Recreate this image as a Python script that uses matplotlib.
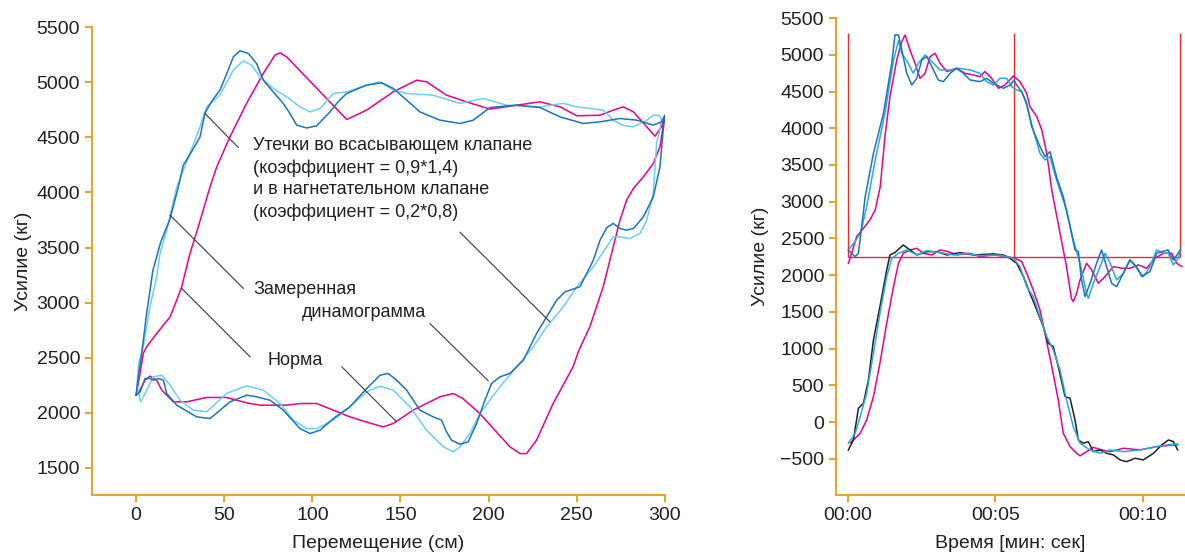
import matplotlib
matplotlib.use('Agg')
import matplotlib.pyplot as plt

plt.rcParams['font.family'] = ['Liberation Sans', 'DejaVu Sans']

GOLD = '#E2A634'
DARK_BLUE = '#1B75BB'
LIGHT_BLUE = '#6DCFF6'
SKY_BLUE = '#27AAE1'
MAGENTA = '#EC008C'
BLACK = '#231F20'
RED = '#EE2B2B'
TEXT = '#231F20'

# --- dynamograms: position (cm) vs load (kg) ---
dark_x = [0, 1.5, 3.2, 6, 9.6, 14, 19.3, 24, 26.8, 29.7, 33, 36.3, 39.1, 43, 47.6, 51, 55.2, 59,
          63.7, 68.4, 72.2, 77.8, 83.5, 87.3, 91.1, 96.8, 102.5, 110, 115, 119.5, 130.8, 139.3,
          145.9, 153.5, 161, 172.4, 183.7, 191.3, 200.8, 215.6, 229.1, 240.5, 253.6, 263.2,
          274.5, 284, 293.4, 298, 300,
          299, 297.2, 293.4, 287.8, 282.1, 278.3, 274.5, 270.7, 267, 263.2, 259.4, 251.8, 243.3,
          238.6, 232.9, 227.2, 219.7, 212.1, 206.4, 201.7, 197.9, 193.2, 188.4, 183.7, 179,
          176.1, 173.3, 168.5, 161, 153.5, 147.8, 143.1, 138.4, 130.8, 121.3, 111.9, 104.4, 98.7,
          93, 83.5, 76, 68.4, 62.7, 53.3, 42, 34.4, 23.1, 17.4, 15.5, 12.7, 9.8, 7.9, 5.1, 2.3, 0]
dark_y = [2160, 2350, 2542, 2900, 3295, 3550, 3760, 4051, 4248, 4323, 4410, 4505, 4720, 4830,
          4928, 5060, 5231, 5285, 5261, 5170, 5019, 4913, 4808, 4717, 4611, 4585, 4605, 4731,
          4830, 4898, 4974, 4995, 4944, 4838, 4731, 4656, 4626, 4656, 4771, 4792, 4771, 4686,
          4626, 4641, 4671, 4656, 4611, 4640, 4700,
          4560, 4232, 3960, 3779, 3673, 3658, 3673, 3719, 3680, 3567, 3386, 3144, 3098, 3023,
          2871, 2720, 2478, 2358, 2327, 2267, 2115, 1904, 1737, 1716, 1752, 1828, 1934, 1964,
          2025, 2206, 2297, 2358, 2342, 2221, 2055, 1949, 1843, 1813, 1858, 2025, 2115, 2146,
          2161, 2100, 1949, 1964, 2070, 2176, 2297, 2312, 2297, 2312, 2312, 2191, 2160]

light_x = [0.5, 1.5, 4.1, 7.9, 11.7, 13.6, 17.4, 23.1, 30.6, 36.3, 40.1, 47.6, 55.2, 60.8, 65.6,
           70.3, 77.8, 85.4, 93, 98.7, 104.4, 111.9, 119.5, 130.8, 138.4, 145.9, 153.5, 168.5,
           183.7, 197, 210.2, 229.1, 242.4, 249.9, 265, 270.7, 276, 282.1, 289.7, 293.4, 296.5,
           298.1,
           297, 295.3, 293.4, 289.7, 285.9, 280.2, 274.5, 270.7, 267, 259.4, 250, 242.4, 232.9,
           225.3, 215.9, 206.4, 195, 189.4, 183.7, 180, 174.3, 164.8, 155.4, 145.9, 138.4, 130.8,
           121.3, 111.9, 102.5, 96.8, 89.2, 81.7, 72.2, 62.7, 51.3, 40.1, 32.5, 25, 19.3, 14.6,
           9.8, 5.1, 2.6, 0.5]
light_y = [2250, 2450, 2599, 2962, 3234, 3446, 3658, 4051, 4354, 4595, 4777, 4883, 5110, 5194,
           5155, 5049, 4944, 4868, 4777, 4731, 4762, 4898, 4913, 4974, 5004, 4928, 4898, 4883,
           4808, 4853, 4792, 4777, 4808, 4777, 4747, 4656, 4610, 4595, 4656, 4701, 4700, 4671,
           4560, 4445, 3991, 3749, 3628, 3582, 3597, 3597, 3507, 3325, 3144, 2962, 2780, 2599,
           2418, 2236, 1994, 1813, 1692, 1646, 1692, 1843, 2055, 2206, 2242, 2191, 2055, 1934,
           1858, 1858, 1934, 2085, 2206, 2245, 2176, 2010, 2025, 2115, 2251, 2342, 2327, 2176,
           2100, 2250]

mag_x = [0, 2.3, 4.1, 6, 11.7, 19.3, 23.1, 25.9, 30.6, 35.3, 42, 45.8, 53.3, 62.7, 72.2, 78.8,
         81.7, 85.4, 119.5, 130.8, 145.9, 159.2, 164.8, 176.1, 187.4, 200.8, 215.9, 229.1, 240.5,
         250, 263.2, 270.7, 276.4, 282.1, 289.7, 294.4, 298.1, 300,
         297.2, 293.4, 287.8, 282.1, 278.3, 274.5, 270.7, 265, 257.4, 251, 247.9, 236.6, 227.2,
         221.5, 217.8, 212.1, 195, 185.3, 179.9, 172.4, 157.2, 145.9, 140.2, 130, 121.3, 102.5,
         93, 85.4, 70.3, 62.7, 51.3, 40.1, 28.7, 21.2, 14.6, 11.7, 7.9, 5.1, 1.3, 0]
mag_y = [2161, 2358, 2539, 2599, 2720, 2871, 3023, 3144, 3446, 3688, 4051, 4233, 4505, 4808,
         5080, 5246, 5267, 5231, 4662, 4747, 4913, 5019, 5004, 4883, 4822, 4756, 4792, 4822,
         4777, 4696, 4701, 4747, 4777, 4731, 4595, 4511, 4595, 4701,
         4414, 4263, 4142, 4036, 3930, 3749, 3507, 3144, 2780, 2560, 2418, 2085, 1752, 1631,
         1631, 1692, 1994, 2131, 2176, 2146, 2025, 1904, 1873, 1920, 1964, 2085, 2085, 2070,
         2070, 2091, 2140, 2140, 2100, 2100, 2206, 2297, 2333, 2297, 2176, 2161]

# --- load vs time (s) ---
top_dark_t = [0.01, 0.24, 0.35, 0.46, 0.58, 0.86, 1.2, 1.48, 1.59, 1.71, 1.82, 1.99, 2.16, 2.33,
              2.5, 2.67, 2.84, 3.06, 3.23, 3.46, 3.68, 3.91, 4.14, 4.47, 4.7, 4.93, 5.27, 5.5,
              5.63, 5.72, 5.89, 6.06, 6.23, 6.51, 6.68, 6.85, 7.07, 7.3, 7.53, 7.7, 7.81, 7.92,
              8.04, 8.21, 8.43, 8.6, 8.77, 8.94, 9.11, 9.34, 9.56, 9.79, 9.96, 10.24, 10.47,
              10.64, 10.86, 11.03, 11.2, 11.28]
top_dark_y = [2344, 2253, 2299, 2661, 3070, 3659, 4203, 4884, 5269, 5269, 5065, 4748, 4588, 4679,
              4929, 4974, 4838, 4657, 4634, 4748, 4816, 4748, 4657, 4634, 4679, 4612, 4544, 4588,
              4657, 4588, 4498, 4339, 4022, 3749, 3613, 3681, 3341, 3069, 2661, 2344, 2321, 1936,
              1710, 1891, 2164, 2344, 2118, 1891, 1845, 2027, 2208, 2118, 1982, 2050, 2299, 2321,
              2344, 2208, 2299, 2353]

top_sky_t = [0.01, 0.19, 0.42, 0.63, 0.92, 1.25, 1.54, 1.71, 1.82, 2.04, 2.21, 2.38, 2.61, 2.84,
             3.12, 3.46, 3.74, 4.14, 4.47, 4.7, 4.93, 5.15, 5.38, 5.55, 5.72, 5.89, 6.06, 6.28,
             6.51, 6.68, 6.85, 7.07, 7.41, 7.64, 7.87, 8.09, 8.15, 8.32, 8.55, 8.72, 8.89, 9.11,
             9.34, 9.56, 9.79, 10.02, 10.24, 10.47, 10.7, 10.86, 11.03, 11.2, 11.28]
top_sky_y = [2344, 2435, 2571, 2934, 3569, 4203, 4929, 5191, 5020, 4884, 4748, 4884, 4997, 4906,
             4793, 4793, 4816, 4793, 4748, 4634, 4588, 4679, 4679, 4566, 4521, 4498, 4317, 3977,
             3659, 3568, 3613, 3296, 2888, 2480, 2163, 1755, 1687, 1891, 2118, 2299, 2163, 1936,
             2027, 2208, 2095, 1982, 2118, 2344, 2299, 2299, 2140, 2231, 2344]

top_mag_t = [0.01, 0.12, 0.29, 0.52, 0.74, 0.92, 1.09, 1.25, 1.42, 1.65, 1.82, 1.93, 2.1, 2.27,
             2.44, 2.61, 2.78, 2.95, 3.12, 3.35, 3.68, 3.96, 4.25, 4.47, 4.64, 4.87, 5.1, 5.32,
             5.61, 5.83, 6.06, 6.17, 6.4, 6.57, 6.74, 6.91, 7.19, 7.41, 7.58, 7.64, 7.75, 7.87,
             8.09, 8.26, 8.49, 8.72, 9.0, 9.28, 9.56, 9.85, 10.13, 10.41, 10.7, 10.98, 11.15,
             11.32]
top_mag_y = [2163, 2299, 2526, 2639, 2752, 2888, 3205, 3886, 4430, 4929, 5178, 5269, 5065, 4884,
             4679, 4748, 4974, 5020, 4884, 4771, 4816, 4748, 4725, 4702, 4771, 4679, 4544, 4588,
             4711, 4634, 4475, 4294, 4158, 3977, 3659, 3160, 2571, 2118, 1680, 1641, 1750, 1936,
             2163, 2073, 1891, 1982, 2118, 2095, 2095, 2140, 2095, 2231, 2299, 2299, 2163, 2118]

low_black_t = [0.01, 0.18, 0.35, 0.52, 0.69, 0.86, 1.08, 1.31, 1.42, 1.59, 1.87, 2.1, 2.33, 2.67,
               3.01, 3.35, 3.8, 4.25, 4.93, 5.27, 5.49, 5.72, 5.95, 6.17, 6.4, 6.62, 6.79, 6.96,
               7.13, 7.36, 7.53, 7.7, 7.81, 7.98, 8.15, 8.32, 8.55, 8.77, 9.0, 9.23, 9.45, 9.74,
               10.02, 10.36, 10.64, 10.87, 11.04, 11.18]
low_black_y = [-377, -241, 190, 258, 575, 1119, 1573, 2072, 2276, 2308, 2412, 2344, 2276, 2321,
               2321, 2276, 2308, 2276, 2290, 2276, 2231, 2163, 1981, 1755, 1528, 1301, 1074, 1029,
               757, 349, 326, 31, -241, -286, -264, -400, -377, -422, -445, -513, -536, -490,
               -513, -422, -309, -241, -264, -377]

low_sky_t = [0.01, 0.24, 0.41, 0.63, 0.86, 1.08, 1.31, 1.48, 1.71, 1.99, 2.33, 2.67, 3.12, 3.57,
             4.02, 4.47, 5.15, 5.61, 5.83, 6.06, 6.28, 6.51, 6.74, 6.96, 7.19, 7.41, 7.64, 7.87,
             8.2, 8.55, 8.89, 9.34, 9.9, 10.47, 10.81, 11.18]
low_sky_y = [-286, -150, 77, 394, 938, 1483, 1981, 2231, 2299, 2344, 2276, 2335, 2308, 2276, 2299,
             2267, 2276, 2231, 2118, 1846, 1710, 1437, 1165, 983, 711, 303, -60, -286, -377, -422,
             -377, -400, -377, -332, -309, -295]

low_mag_t = [0.08, 0.41, 0.63, 0.86, 1.08, 1.31, 1.54, 1.71, 1.87, 2.1, 2.33, 2.55, 2.84, 3.12,
             3.4, 3.68, 4.14, 4.47, 4.93, 5.38, 5.66, 5.89, 6.06, 6.28, 6.51, 6.68, 6.91, 7.13,
             7.3, 7.53, 7.75, 7.87, 8.09, 8.32, 8.6, 8.89, 9.34, 9.9, 10.47, 11.04, 11.18]
low_mag_y = [-280, -150, 31, 349, 802, 1347, 1846, 2163, 2299, 2344, 2367, 2299, 2276, 2344, 2321,
             2276, 2299, 2254, 2276, 2254, 2231, 2186, 2027, 1800, 1528, 1210, 757, 303, -150,
             -332, -422, -458, -400, -341, -377, -400, -354, -377, -332, -309, -309]

# stroke window (s) and load band (kg)
box_t = [0, 5.63, 11.25]
box_low, box_high = 2250, 5300

fig = plt.figure(figsize=(11.85, 5.54), dpi=100)
ax1 = fig.add_axes([0.0776, 0.1065, 0.4835, 0.8445])
ax2 = fig.add_axes([0.7055, 0.1065, 0.2935, 0.861])

for ax in (ax1, ax2):
    for side in ('top', 'right'):
        ax.spines[side].set_visible(False)
    for side in ('left', 'bottom'):
        ax.spines[side].set_color(GOLD)
        ax.spines[side].set_linewidth(1.5)
    ax.tick_params(colors=GOLD, width=1.5, length=5, labelsize=14, labelcolor=TEXT)

# left chart
ax1.plot(mag_x, mag_y, color=MAGENTA, lw=1.1)
ax1.plot(light_x, light_y, color=LIGHT_BLUE, lw=1.1)
ax1.plot(dark_x, dark_y, color=DARK_BLUE, lw=1.1)
ax1.set_xlim(-25, 300)
ax1.set_ylim(1255, 5500)
ax1.set_xticks([0, 50, 100, 150, 200, 250, 300])
ax1.set_yticks([1500, 2000, 2500, 3000, 3500, 4000, 4500, 5000, 5500])
ax1.set_xlabel('Перемещение (см)', fontsize=14, color=TEXT, labelpad=8)
ax1.set_ylabel('Усилие (кг)', fontsize=14, color=TEXT, labelpad=3)

leader = dict(arrowstyle='-', color='#3A3A3A', lw=0.8, shrinkA=0, shrinkB=0)
ax1.text(66.3, 4500, 'Утечки во всасывающем клапане\n(коэффициент = 0,9*1,4)\n'
         'и в нагнетательном клапане\n(коэффициент = 0,2*0,8)',
         fontsize=13, color=TEXT, va='top', ha='left', linespacing=1.36)
ax1.annotate('', xy=(39.1, 4717), xytext=(58, 4408), arrowprops=leader)
ax1.annotate('', xy=(234.8, 2826), xytext=(183.7, 3640), arrowprops=leader)
ax1.text(66.3, 3123, 'Замеренная', fontsize=13, color=TEXT, va='center', ha='left')
ax1.text(94.1, 2914, 'динамограмма', fontsize=13, color=TEXT, va='center', ha='left')
ax1.annotate('', xy=(19.3, 3794), xytext=(60.9, 3129), arrowprops=leader)
ax1.annotate('', xy=(199.8, 2291), xytext=(166.7, 2811), arrowprops=leader)
ax1.text(74.8, 2478, 'Норма', fontsize=13, color=TEXT, va='center', ha='left')
ax1.annotate('', xy=(25.9, 3129), xytext=(64.7, 2508), arrowprops=leader)
ax1.annotate('', xy=(147.8, 1919), xytext=(116.7, 2418), arrowprops=leader)

# right chart
ax2.vlines(box_t, box_low, box_high, color=RED, lw=1.0)
ax2.hlines(box_low, box_t[0], box_t[-1], color=RED, lw=1.0)
ax2.plot(top_mag_t, top_mag_y, color=MAGENTA, lw=1.1)
ax2.plot(top_sky_t, top_sky_y, color=SKY_BLUE, lw=1.1)
ax2.plot(top_dark_t, top_dark_y, color=DARK_BLUE, lw=1.1)
ax2.plot(low_mag_t, low_mag_y, color=MAGENTA, lw=1.1)
ax2.plot(low_black_t, low_black_y, color=BLACK, lw=1.1)
ax2.plot(low_sky_t, low_sky_y, color=SKY_BLUE, lw=1.1)
ax2.set_xlim(-0.41, 11.39)
ax2.set_ylim(-990, 5500)
ax2.set_xticks([0, 5, 10])
ax2.set_xticklabels(['00:00', '00:05', '00:10'])
ax2.set_yticks(list(range(-500, 5501, 500)))
ax2.set_xlabel('Время [мин: сек]', fontsize=14, color=TEXT, labelpad=8)
ax2.set_ylabel('Усилие (кг)', fontsize=14, color=TEXT, labelpad=8)

fig.savefig('out.png', dpi=100)
